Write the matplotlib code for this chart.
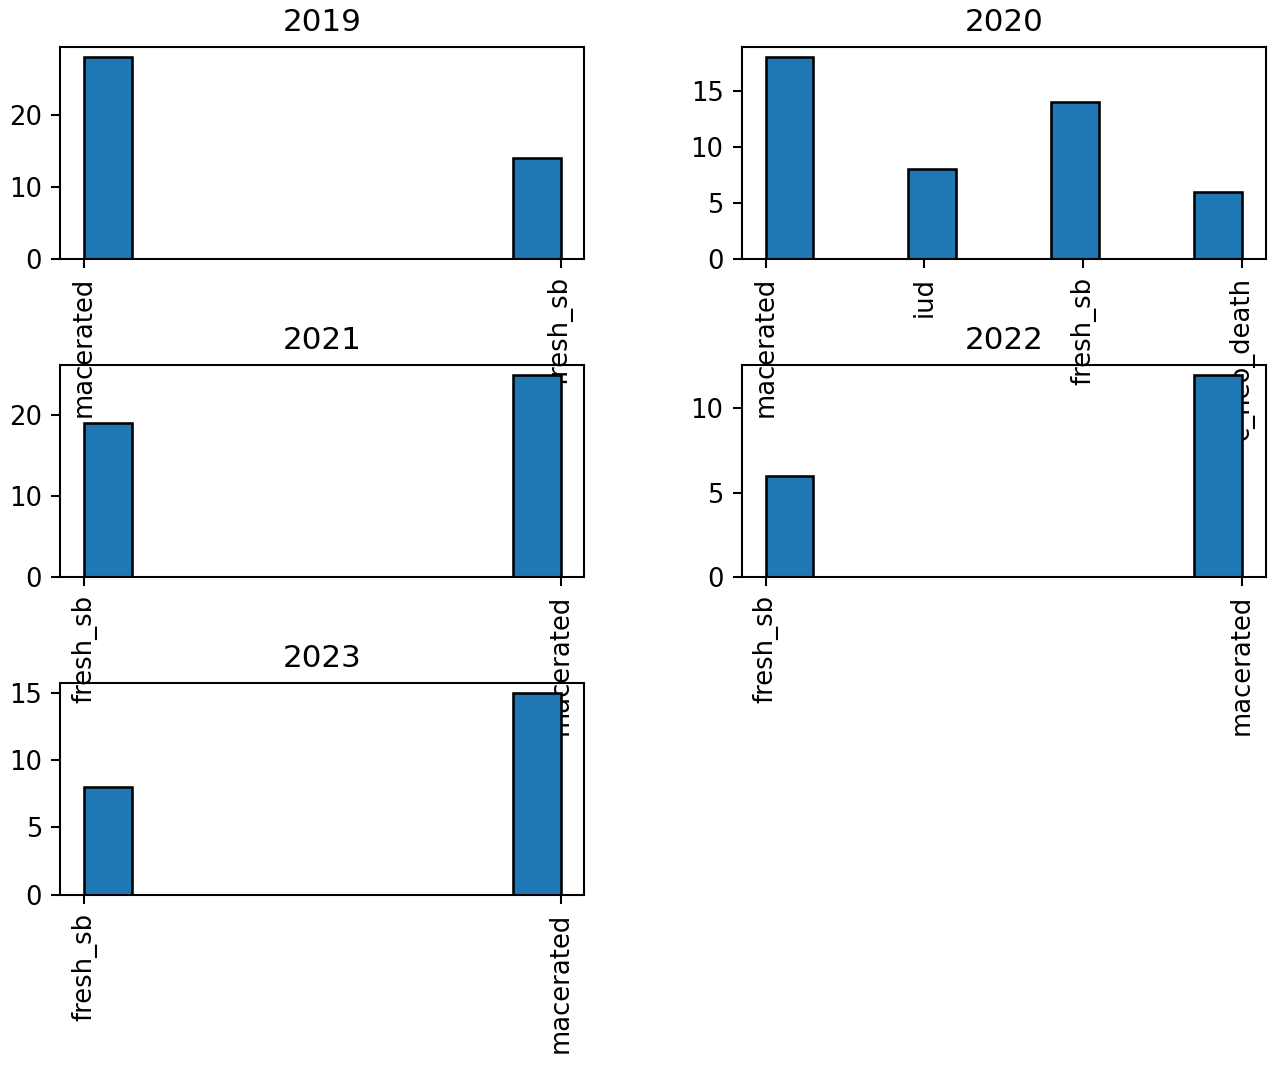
import matplotlib
matplotlib.use("Agg")
import matplotlib.pyplot as plt

# 每年的死产类型计数
years = ["2019", "2020", "2021", "2022", "2023"]
cats_2019 = ["macerated", "fresh_sb"]
counts_2019 = [28, 14]
cats_2020 = ["macerated", "iud", "fresh_sb", "c_neo_death"]
counts_2020 = [18, 8, 14, 6]
cats_2021 = ["fresh_sb", "macerated"]
counts_2021 = [19, 25]
cats_2022 = ["fresh_sb", "macerated"]
counts_2022 = [6, 12]
cats_2023 = ["fresh_sb", "macerated"]
counts_2023 = [8, 15]

all_cats = [cats_2019, cats_2020, cats_2021, cats_2022, cats_2023]
all_counts = [counts_2019, counts_2020, counts_2021, counts_2022, counts_2023]

DPI = 186
plt.rcParams["font.size"] = 10
fig, axes = plt.subplots(3, 2, figsize=(1280 / DPI, 1065 / DPI), dpi=DPI)
fig.subplots_adjust(left=0.047, right=0.989, top=0.956, bottom=0.160,
                    hspace=0.5, wspace=0.3)
axes = axes.ravel()

for i, year in enumerate(years):
    ax = axes[i]
    ax.set_facecolor("none")
    ax.hist(all_cats[i], weights=all_counts[i], bins=10,
            color="#1f77b4", edgecolor="black")
    ax.set_title(year, fontsize=12)
    ax.tick_params(axis="x", labelrotation=90)

axes[5].remove()

plt.savefig("out.png", dpi=DPI)
